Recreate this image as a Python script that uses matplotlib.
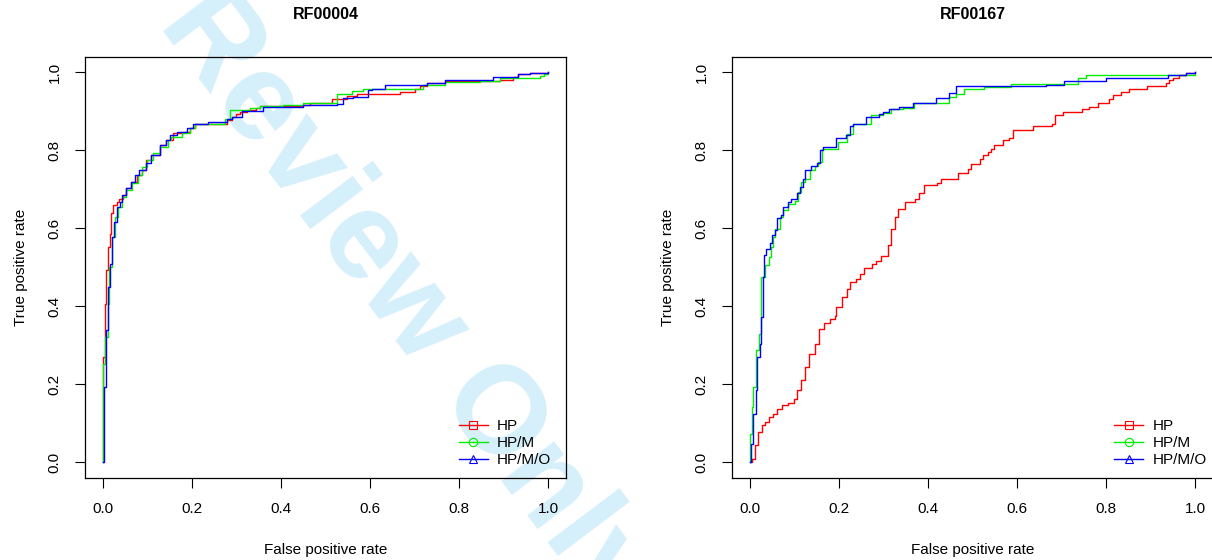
import matplotlib
matplotlib.use("Agg")
import matplotlib.pyplot as plt
from matplotlib.lines import Line2D

plt.rcParams['font.family'] = ['Liberation Sans', 'DejaVu Sans']

# ---- data (fpr, tpr vertices of step ROC curves) ----
titles = ["RF00004", "RF00167"]
labels = ["HP", "HP/M", "HP/M/O"]
colors = ["#ff0000", "#00ee00", "#0000ff"]
markers = ["s", "o", "^"]
ticks = [0.0, 0.2, 0.4, 0.6, 0.8, 1.0]

# RF00004
p1_hp_fpr = [0, 0.001, 0.004, 0.007, 0.011, 0.016, 0.018, 0.023, 0.031, 0.036, 0.046, 0.053,
             0.064, 0.076, 0.087, 0.098, 0.109, 0.128, 0.143, 0.158, 0.177, 0.196, 0.207, 0.278,
             0.289, 0.300, 0.308, 0.323, 0.345, 0.353, 0.450, 0.465, 0.514, 0.548, 0.570, 0.667,
             0.701, 0.712, 0.727, 0.769, 0.892, 0.922, 0.933, 0.960, 1.0]
p1_hp_tpr = [0, 0.270, 0.407, 0.492, 0.552, 0.586, 0.638, 0.659, 0.667, 0.676, 0.685, 0.702,
             0.719, 0.736, 0.749, 0.774, 0.787, 0.813, 0.826, 0.844, 0.847, 0.858, 0.868, 0.877,
             0.885, 0.892, 0.898, 0.903, 0.907, 0.913, 0.915, 0.921, 0.930, 0.939, 0.945, 0.950,
             0.958, 0.964, 0.973, 0.978, 0.981, 0.988, 0.995, 0.998, 1.0]

p1_hpm_fpr = [0, 0.001, 0.004, 0.012, 0.013, 0.020, 0.027, 0.033, 0.042, 0.053, 0.066, 0.079,
              0.087, 0.100, 0.113, 0.128, 0.147, 0.154, 0.177, 0.196, 0.207, 0.274, 0.285, 0.308,
              0.330, 0.353, 0.405, 0.450, 0.510, 0.525, 0.559, 0.585, 0.630, 0.720, 0.769, 0.847,
              0.892, 0.982, 0.990, 1.0]
p1_hpm_tpr = [0, 0.253, 0.321, 0.407, 0.501, 0.578, 0.629, 0.655, 0.680, 0.697, 0.715, 0.736,
              0.757, 0.775, 0.792, 0.808, 0.826, 0.834, 0.843, 0.858, 0.868, 0.881, 0.903, 0.904,
              0.907, 0.913, 0.917, 0.920, 0.921, 0.945, 0.951, 0.956, 0.958, 0.967, 0.975, 0.978,
              0.984, 0.990, 0.995, 0.995]

p1_hpmo_fpr = [0, 0.003, 0.008, 0.012, 0.016, 0.020, 0.025, 0.031, 0.038, 0.043, 0.051, 0.063,
               0.073, 0.081, 0.098, 0.109, 0.128, 0.143, 0.151, 0.166, 0.188, 0.203, 0.237, 0.278,
               0.289, 0.312, 0.360, 0.450, 0.525, 0.540, 0.562, 0.596, 0.604, 0.634, 0.727, 0.769,
               0.877, 0.933, 0.960, 1.0]
p1_hpmo_tpr = [0, 0.193, 0.338, 0.449, 0.509, 0.578, 0.616, 0.655, 0.667, 0.685, 0.702, 0.719,
               0.736, 0.749, 0.766, 0.787, 0.813, 0.826, 0.838, 0.847, 0.856, 0.868, 0.873, 0.879,
               0.885, 0.901, 0.911, 0.915, 0.918, 0.933, 0.937, 0.954, 0.958, 0.967, 0.973, 0.979,
               0.988, 0.995, 0.998, 1.0]

# RF00167
p2_hp_fpr = [0, 0.004, 0.011, 0.019, 0.028, 0.034, 0.043, 0.052, 0.061, 0.072, 0.086, 0.099,
             0.105, 0.116, 0.123, 0.132, 0.147, 0.155, 0.166, 0.179, 0.192, 0.194, 0.206, 0.218,
             0.226, 0.238, 0.247, 0.256, 0.274, 0.284, 0.295, 0.310, 0.318, 0.325, 0.333, 0.348,
             0.372, 0.381, 0.392, 0.421, 0.430, 0.467, 0.490, 0.497, 0.516, 0.523, 0.534, 0.542,
             0.549, 0.568, 0.582, 0.591, 0.635, 0.679, 0.686, 0.703, 0.746, 0.762, 0.781, 0.807,
             0.815, 0.834, 0.852, 0.893, 0.934, 0.942, 0.951, 0.963, 0.979, 1.0]
p2_hp_tpr = [0, 0.010, 0.044, 0.078, 0.095, 0.103, 0.116, 0.125, 0.137, 0.146, 0.153, 0.163,
             0.185, 0.210, 0.244, 0.279, 0.304, 0.343, 0.356, 0.368, 0.375, 0.398, 0.424, 0.445,
             0.462, 0.471, 0.484, 0.499, 0.509, 0.515, 0.528, 0.556, 0.599, 0.629, 0.650, 0.667,
             0.676, 0.689, 0.712, 0.716, 0.727, 0.742, 0.753, 0.764, 0.777, 0.787, 0.796, 0.804,
             0.813, 0.826, 0.830, 0.851, 0.862, 0.868, 0.890, 0.897, 0.905, 0.911, 0.920, 0.930,
             0.941, 0.950, 0.956, 0.964, 0.971, 0.979, 0.986, 0.992, 0.997, 1.0]

p2_hpm_fpr = [0, 0.001, 0.004, 0.007, 0.015, 0.020, 0.025, 0.026, 0.034, 0.043, 0.047, 0.052,
              0.056, 0.067, 0.075, 0.086, 0.101, 0.108, 0.116, 0.125, 0.135, 0.146, 0.153, 0.161,
              0.198, 0.218, 0.232, 0.273, 0.299, 0.318, 0.344, 0.368, 0.448, 0.463, 0.482, 0.527,
              0.587, 0.736, 0.755, 1.0]
p2_hpm_tpr = [0, 0.073, 0.142, 0.193, 0.287, 0.330, 0.407, 0.475, 0.505, 0.526, 0.552, 0.578,
              0.599, 0.629, 0.646, 0.663, 0.671, 0.693, 0.719, 0.727, 0.749, 0.759, 0.770, 0.804,
              0.821, 0.841, 0.868, 0.890, 0.896, 0.905, 0.907, 0.920, 0.937, 0.943, 0.956, 0.962,
              0.969, 0.986, 0.992, 0.995]

p2_hpmo_fpr = [0, 0.002, 0.007, 0.013, 0.017, 0.022, 0.026, 0.030, 0.032, 0.037, 0.045, 0.050,
               0.056, 0.060, 0.070, 0.075, 0.085, 0.093, 0.105, 0.112, 0.120, 0.125, 0.138, 0.150,
               0.157, 0.164, 0.193, 0.215, 0.224, 0.232, 0.262, 0.291, 0.299, 0.313, 0.336, 0.366,
               0.419, 0.448, 0.463, 0.665, 0.706, 0.800, 0.938, 0.979, 1.0]
p2_hpmo_tpr = [0, 0.048, 0.125, 0.185, 0.270, 0.304, 0.373, 0.475, 0.531, 0.548, 0.561, 0.582,
               0.595, 0.625, 0.633, 0.655, 0.668, 0.676, 0.689, 0.706, 0.727, 0.749, 0.759, 0.766,
               0.800, 0.809, 0.830, 0.838, 0.862, 0.868, 0.884, 0.892, 0.898, 0.905, 0.911, 0.920,
               0.933, 0.947, 0.964, 0.968, 0.978, 0.984, 0.992, 0.999, 1.0]

panels = [
    [(p1_hp_fpr, p1_hp_tpr), (p1_hpm_fpr, p1_hpm_tpr), (p1_hpmo_fpr, p1_hpmo_tpr)],
    [(p2_hp_fpr, p2_hp_tpr), (p2_hpm_fpr, p2_hpm_tpr), (p2_hpmo_fpr, p2_hpmo_tpr)],
]

fig = plt.figure(figsize=(12.12, 5.6), dpi=100)

# watermark behind everything
fig.text(0.335, 0.46, "Review Only", rotation=-53, fontsize=90, fontweight="bold",
         color="#d5effb", ha="center", va="center", rotation_mode="anchor", zorder=-1)

lefts = [85 / 1212, 732 / 1212]
legend_x = [0.992, 1.009]
for i, ax_left in enumerate(lefts):
    ax = fig.add_axes([ax_left, 0.1464, 0.3968, 0.7527])
    ax.set_facecolor("none")
    for (fpr, tpr), col in zip(panels[i], colors):
        ax.plot(fpr, tpr, drawstyle="steps-post", color=col, lw=1.0)
    ax.set_xlim(-0.04, 1.04)
    ax.set_ylim(-0.04, 1.04)
    ax.set_xticks(ticks)
    ax.set_yticks(ticks)
    ax.set_xticklabels([f"{t:.1f}" for t in ticks])
    ax.set_yticklabels([f"{t:.1f}" for t in ticks], rotation=90, va="center")
    ax.tick_params(direction="out", length=7, width=0.8, labelsize=11, pad=10)
    for s in ax.spines.values():
        s.set_linewidth(0.9)
    ax.set_xlabel("False positive rate", fontsize=11, labelpad=20)
    ax.set_ylabel("True positive rate", fontsize=11, labelpad=14)
    ax.set_title(titles[i], fontsize=11.5, fontweight="bold", pad=27)

    handles = [Line2D([], [], color=c, marker=m, markersize=6, mfc="none", mew=0.8, lw=1.0)
               for c, m in zip(colors, markers)]
    ax.legend(handles, labels, loc="lower right", bbox_to_anchor=(legend_x[i], 0.0),
              frameon=False, fontsize=11, handlelength=1.9, labelspacing=0.2,
              handletextpad=0.6, borderaxespad=0.3)

fig.savefig("out.png", dpi=100)
